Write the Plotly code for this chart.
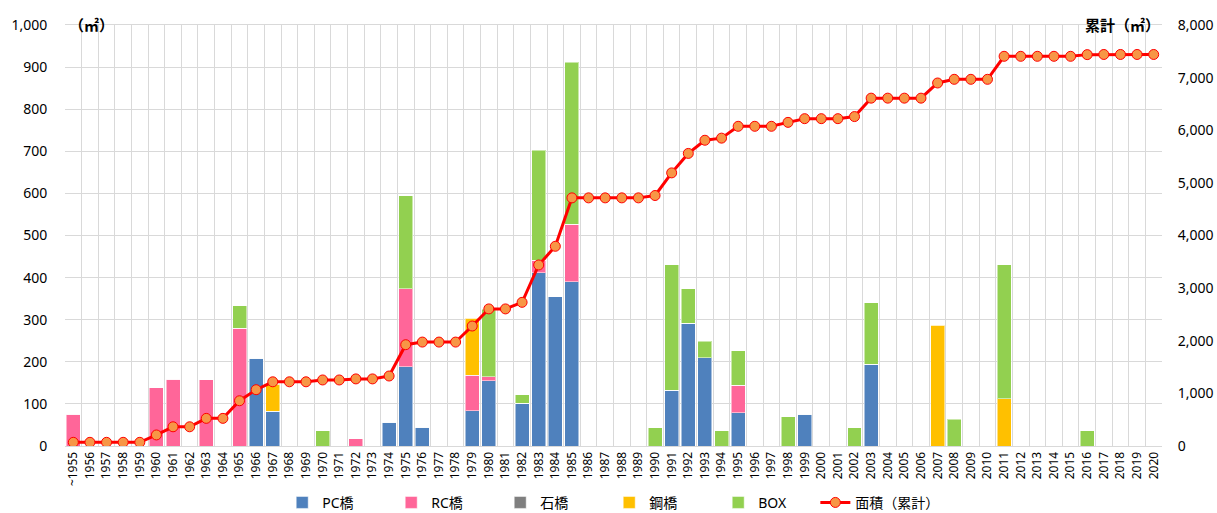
import plotly.graph_objects as go


YEARS = ['~1955'] + [str(y) for y in range(1956, 2021)]

# yearly area per bridge type (m2)
PC = {1966: 208, 1967: 82, 1974: 57, 1975: 188, 1976: 45, 1979: 84, 1980: 155,
      1982: 101, 1983: 412, 1984: 354, 1985: 390, 1991: 133, 1992: 292,
      1993: 210, 1995: 79, 1999: 75, 2003: 194}
RC = {1955: 75, 1960: 138, 1961: 158, 1963: 157, 1965: 280, 1972: 17,
      1975: 185, 1979: 84, 1980: 10, 1983: 29, 1985: 137, 1995: 65}
STONE = {}
STEEL = {1967: 65, 1979: 135, 2007: 287, 2011: 112}
BOX = {1965: 53, 1970: 36, 1975: 222, 1980: 160, 1982: 21, 1983: 261,
       1985: 385, 1990: 43, 1991: 298, 1992: 81, 1993: 39, 1994: 36,
       1995: 82, 1998: 69, 2002: 43, 2003: 146, 2008: 63, 2011: 319,
       2016: 36}

# cumulative area (right axis)
CUMULATIVE = [70, 70, 70, 70, 70, 210, 365, 365, 525, 525,
              860, 1070, 1220, 1220, 1220, 1255, 1255, 1275, 1275, 1330,
              1925, 1975, 1975, 1975, 2280, 2605, 2605, 2730, 3440, 3795,
              4715, 4715, 4715, 4715, 4715, 4760, 5190, 5560, 5810, 5850,
              6075, 6075, 6075, 6150, 6220, 6220, 6220, 6260, 6610, 6610,
              6610, 6610, 6898, 6968, 6968, 6968, 7405, 7405, 7405, 7405,
              7405, 7437, 7440, 7440, 7440, 7440]

SERIES = [
    ('PC橋', PC, '#4F81BD'),
    ('RC橋', RC, '#FF6699'),
    ('石橋', STONE, '#7F7F7F'),
    ('鋼橋', STEEL, '#FFC000'),
    ('BOX', BOX, '#92D050'),
]

FONT = 'Noto Sans, Noto Sans CJK JP'


def toList(d):
    return [d.get(y, 0) for y in range(1955, 2021)]


fig = go.Figure()

for name, data, color in SERIES:
    fig.add_trace(go.Bar(
        x=YEARS, y=toList(data), name=name,
        marker=dict(color=color, line=dict(color='rgba(255,255,255,0.5)', width=1)),
    ))

fig.add_trace(go.Scatter(
    x=YEARS, y=CUMULATIVE, name='面積（累計）', yaxis='y2', legend='legend2',
    mode='lines+markers',
    line=dict(color='#FF0000', width=3),
    marker=dict(size=10, color='#F79646', line=dict(color='#FF0000', width=1)),
))

legend_common = dict(
    orientation='h', y=-0.135, yanchor='middle', xanchor='left',
    font=dict(size=14, color='#000000'), bgcolor='rgba(0,0,0,0)',
)

fig.update_layout(
    width=1217, height=513,
    barmode='stack', bargap=0.16,
    plot_bgcolor='white', paper_bgcolor='white',
    margin=dict(l=65, r=55, t=25, b=67, autoexpand=False),
    font=dict(family=FONT, size=13, color='#000000'),
    xaxis=dict(
        type='category', tickson='boundaries', tickangle=-90,
        range=[-0.5, len(YEARS) - 0.5],
        showgrid=True, gridcolor='#D9D9D9', gridwidth=1,
        showline=True, linecolor='#D9D9D9', ticks='', mirror=True,
        tickfont=dict(size=12, color='#000000'),
    ),
    yaxis=dict(
        range=[0, 1000], dtick=100, tickformat=',d',
        showgrid=True, gridcolor='#D9D9D9', zeroline=False,
        ticks='outside', ticklen=14, tickcolor='rgba(0,0,0,0)',
        tickfont=dict(size=14, color='#000000'),
    ),
    yaxis2=dict(
        range=[0, 8000], dtick=1000, tickformat=',d',
        overlaying='y', side='right', showgrid=False, zeroline=False,
        ticks='outside', ticklen=12, tickcolor='rgba(0,0,0,0)',
        tickfont=dict(size=14, color='#000000'),
    ),
    legend=dict(x=0.198, entrywidth=64, traceorder='normal', **legend_common),
    legend2=dict(x=0.684, **legend_common),
    annotations=[
        dict(text='<b>（㎡）</b>', x=0.002, y=1, xref='paper', yref='paper',
             xanchor='left', yanchor='middle', showarrow=False,
             font=dict(size=15, color='#000000')),
        dict(text='<b>累計（㎡）</b>', x=1, y=1, xref='paper', yref='paper',
             xanchor='right', yanchor='middle', showarrow=False,
             font=dict(size=15, color='#000000')),
    ],
)

fig.write_html('out.html', config={'displayModeBar': False},
               post_script="document.body.style.margin='0';")
